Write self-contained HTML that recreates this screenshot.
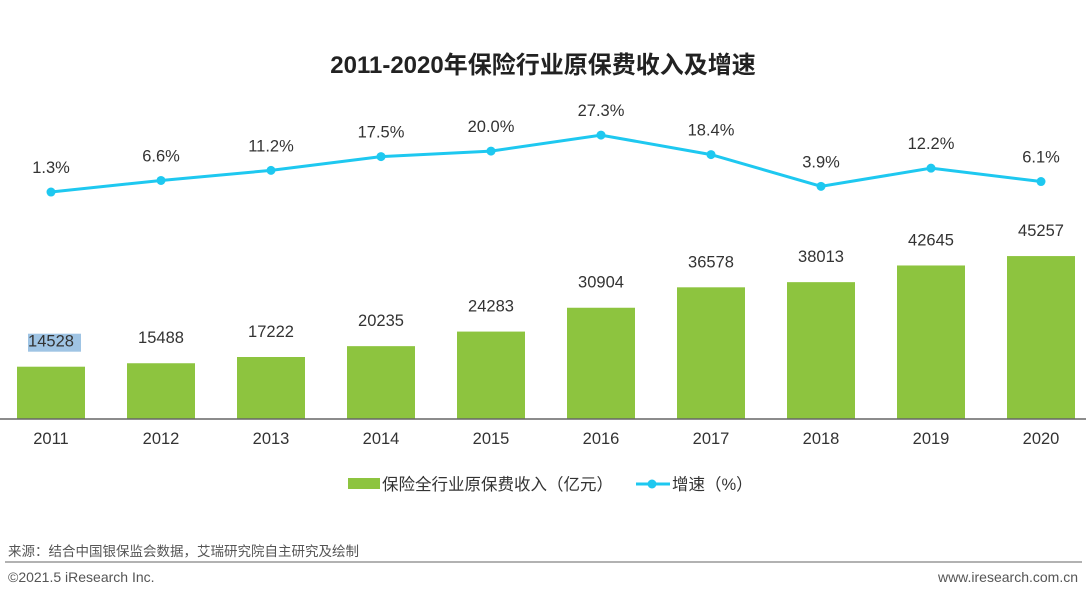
<!DOCTYPE html>
<html><head><meta charset="utf-8"><style>
body{margin:0;background:#fff;}
svg text{font-family:"Liberation Sans","Noto Sans CJK SC",sans-serif;}
</style></head><body>
<svg width="1086" height="589" viewBox="0 0 1086 589" xmlns="http://www.w3.org/2000/svg">
<text x="543" y="73" text-anchor="middle" font-size="24" font-weight="bold" fill="#222">2011-2020年保险行业原保费收入及增速</text>
<g id="bars"></g>
<g id="line"></g>
<line x1="0" y1="419" x2="1086" y2="419" stroke="#666" stroke-width="1.5"/>
<g id="xlabels"></g>
<g>
<rect x="348" y="478" width="32" height="11" fill="#8dc43f"/>
<text x="382" y="490" font-size="16.5" fill="#333">保险全行业原保费收入（亿元）</text>
<line x1="636" y1="484" x2="670" y2="484" stroke="#1ec8f0" stroke-width="3"/>
<circle cx="652" cy="484" r="4.5" fill="#1ec8f0"/>
<text x="672" y="490" font-size="16.5" fill="#333">增速（%）</text>
</g>
<text x="8" y="556" font-size="13.5" fill="#555">来源：结合中国银保监会数据，艾瑞研究院自主研究及绘制</text>
<line x1="5" y1="562" x2="1082" y2="562" stroke="#999" stroke-width="1.5"/>
<text x="8" y="582" font-size="14" fill="#555">©2021.5 iResearch Inc.</text>
<text x="1078" y="582" font-size="14" fill="#555" text-anchor="end">www.iresearch.com.cn</text>
</svg>
<script>
const years=["2011","2012","2013","2014","2015","2016","2017","2018","2019","2020"];
const revenue=[14528,15488,17222,20235,24283,30904,36578,38013,42645,45257];
const growth=[1.3,6.6,11.2,17.5,20.0,27.3,18.4,3.9,12.2,6.1];
const growthLabels=["1.3%","6.6%","11.2%","17.5%","20.0%","27.3%","18.4%","3.9%","12.2%","6.1%"];
const NS="http://www.w3.org/2000/svg";
const xC=i=>51+i*110;
const yBar=v=>419-v*0.0036;
const yLine=v=>194.9-v*2.19;
function mk(t,a,p){const e=document.createElementNS(NS,t);for(const k in a)e.setAttribute(k,a[k]);p.appendChild(e);return e;}
const gb=document.getElementById('bars'),gl=document.getElementById('line'),gx=document.getElementById('xlabels');
revenue.forEach((v,i)=>{
 const r=mk('rect',{x:xC(i)-34,y:yBar(v),width:68,height:419-yBar(v),fill:'#8dc43f'},gb);
 
 
 if(i===0){const h=mk('rect',{x:xC(i)-23,y:yBar(v)-33,width:53,height:18,fill:'#9fc4e4'},gb);
  
  }
 const t=mk('text',{x:xC(i),y:yBar(v)-20,'text-anchor':'middle','font-size':16.5,fill:'#333'},gb);t.textContent=v;
 
 
 const xl=mk('text',{x:xC(i),y:444,'text-anchor':'middle','font-size':16.5,fill:'#333'},gx);xl.textContent=years[i];
 
 
});
const pl=mk('polyline',{points:growth.map((v,i)=>xC(i)+','+yLine(v)).join(' '),fill:'none',stroke:'#1ec8f0','stroke-width':3},gl);


growth.forEach((v,i)=>{
 const c=mk('circle',{cx:xC(i),cy:yLine(v),r:4.5,fill:'#1ec8f0'},gl);
 
 
 const t=mk('text',{x:xC(i),y:yLine(v)-19,'text-anchor':'middle','font-size':16.5,fill:'#333'},gl);t.textContent=growthLabels[i];
 
 
});
</script>
</body></html>
